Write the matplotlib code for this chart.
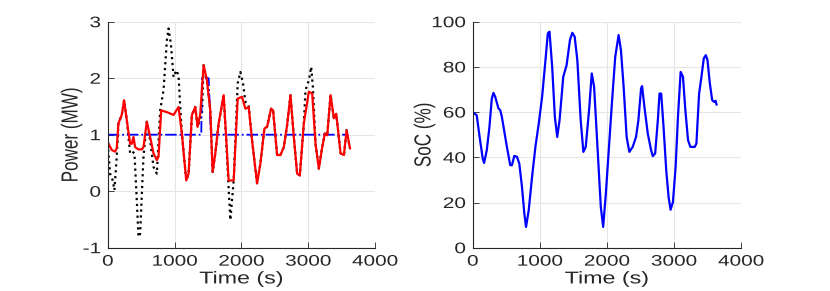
import matplotlib

matplotlib.use("Agg")
import matplotlib.pyplot as plt
from matplotlib import patheffects
from matplotlib.transforms import Affine2D

plt.rcParams["font.family"] = ["Liberation Sans", "DejaVu Sans"]
plt.rcParams["axes.unicode_minus"] = False

# --- left panel: power (MW) ---
red_t = [0, 60, 110, 135, 160, 210, 245, 285, 335, 360, 385, 410, 460, 510, 535,
         585, 635, 685, 735, 760, 800, 885, 985, 1060, 1110, 1175, 1210, 1260,
         1310, 1345, 1385, 1435, 1485, 1535, 1570, 1610, 1660, 1735, 1775, 1810,
         1885, 1945, 2010, 2060, 2110, 2160, 2235, 2285, 2345, 2385, 2445, 2475,
         2535, 2585, 2635, 2685, 2735, 2785, 2835, 2875, 2935, 3010, 3060, 3110,
         3160, 3210, 3250, 3285, 3335, 3385, 3420, 3485, 3535, 3575, 3625]
red_p = [0.87, 0.73, 0.70, 0.76, 1.20, 1.35, 1.61, 1.26, 0.84, 0.84, 0.96, 0.78,
         0.74, 0.74, 0.78, 1.23, 0.96, 0.67, 0.55, 0.61, 1.43, 1.40, 1.35, 1.49,
         1.02, 0.19, 0.31, 1.35, 1.49, 1.14, 1.37, 2.23, 1.96, 1.43, 0.34, 0.67,
         1.20, 1.70, 0.90, 0.19, 0.19, 1.64, 1.67, 1.46, 1.49, 0.90, 0.14, 0.49,
         1.11, 1.14, 1.46, 1.43, 0.64, 0.64, 0.78, 1.17, 1.70, 0.96, 0.31, 0.28,
         1.20, 1.76, 1.73, 0.84, 0.40, 0.78, 1.02, 0.99, 1.70, 1.29, 1.37, 0.67,
         0.64, 1.08, 0.76]

black_t = [0, 35, 75, 100, 135, 160, 210, 245, 285, 335, 370, 400, 435, 460, 485,
           535, 585, 635, 685, 735, 785, 835, 885, 910, 945, 985, 1025, 1060,
           1085, 1110, 1175, 1210, 1260, 1310, 1345, 1410, 1435, 1485, 1535, 1570,
           1610, 1660, 1735, 1785, 1835, 1860, 1885, 1945, 1985, 2025, 2060, 2110,
           2160, 2235, 2285, 2345, 2385, 2445, 2475, 2535, 2585, 2635, 2685, 2735,
           2785, 2835, 2875, 2935, 2960, 3010, 3045, 3070, 3110, 3160, 3210, 3250,
           3285, 3335, 3385, 3420, 3485, 3535, 3575, 3625]
black_p = [0.84, 0.31, 0.19, 0.02, 0.61, 1.20, 1.35, 1.61, 1.26, 0.67, 0.70, 0.67,
           -0.16, -0.81, -0.75, 0.61, 1.23, 0.90, 0.43, 0.31, 1.43, 1.79, 2.67,
           2.88, 2.61, 2.02, 2.14, 2.05, 1.49, 1.02, 0.19, 0.31, 1.35, 1.49, 1.14,
           1.37, 2.23, 1.96, 1.43, 0.34, 0.67, 1.20, 1.70, 0.61, -0.51, -0.16, 0.19,
           1.91, 2.11, 1.91, 1.58, 1.52, 0.90, 0.14, 0.49, 1.11, 1.14, 1.46, 1.43,
           0.64, 0.64, 0.78, 1.17, 1.70, 0.96, 0.31, 0.28, 1.20, 1.79, 1.96, 2.20,
           1.85, 0.84, 0.40, 0.78, 1.02, 0.99, 1.70, 1.29, 1.37, 0.67, 0.64, 1.08,
           0.76]

blue_t = [0, 1400, 1410, 1510, 1545, 3600]
blue_p = [1, 1, 2, 2, 1, 1]

# --- right panel: state of charge (%) ---
soc_t = [0, 60, 110, 150, 170, 210, 250, 285, 310, 335, 385, 410, 435, 510, 560,
         585, 620, 660, 695, 735, 770, 795, 835, 885, 935, 985, 1035, 1085, 1120,
         1145, 1185, 1225, 1260, 1295, 1350, 1400, 1450, 1485, 1520, 1560, 1610,
         1650, 1685, 1735, 1775, 1810, 1860, 1910, 1945, 1985, 2035, 2075, 2125,
         2175, 2210, 2250, 2295, 2335, 2385, 2435, 2470, 2510, 2525, 2560, 2610,
         2660, 2685, 2720, 2760, 2785, 2810, 2845, 2885, 2920, 2950, 2985, 3025,
         3060, 3100, 3135, 3170, 3210, 3245, 3285, 3310, 3335, 3375, 3410, 3445,
         3475, 3500, 3535, 3570, 3600, 3620, 3635]
soc = [60, 58.6, 47.6, 39.4, 37.5, 43.1, 53.5, 66, 68.5, 66.8, 61.6, 60.9, 57.9,
       44.6, 36.5, 36.5, 40.6, 40.2, 37.2, 26.9, 15.1, 9.2, 16.5, 31.3, 44.6, 55,
       66.8, 83, 94.8, 95.6, 80, 57.9, 49, 56.4, 75.6, 80.8, 91.9, 95.1, 93.4, 83,
       56.4, 42.4, 44.6, 60.9, 77.1, 71.2, 44.6, 18, 9.2, 23.9, 46.1, 63.8, 84.5,
       94.1, 87.4, 71.2, 49, 42.4, 44.6, 49, 56.4, 70.5, 71.5, 62.3, 50.5, 43.1,
       40.5, 41.7, 56.4, 68.2, 68.2, 53.5, 34.3, 22.5, 16.8, 20.2, 35.7, 57.9,
       77.8, 75.6, 60.9, 47.6, 44.6, 44.6, 44.6, 46.1, 68.2, 75.6, 83.8, 85.2, 83,
       72.7, 65.3, 64.5, 65, 63.4]

TEXT = "#262626"
STRETCH = 1.36  # the source figure's text is stretched sideways


class Widen(patheffects.AbstractPathEffect):
    """Stretch drawn text horizontally about its left/centre/right edge."""

    def __init__(self, sx, anchor="center"):
        super().__init__()
        self.sx = sx
        self.anchor = anchor

    def draw_path(self, renderer, gc, tpath, affine, rgbFace=None):
        xs = affine.transform(tpath.vertices)[:, 0]
        ref = {"left": xs.min(), "right": xs.max()}.get(self.anchor, (xs.min() + xs.max()) / 2)
        extra = Affine2D().translate(-ref, 0).scale(self.sx, 1).translate(ref, 0)
        renderer.draw_path(gc, tpath, affine + extra, rgbFace)


def style(ax, ylabel, yticks):
    ax.grid(True, color="#e6e6e6", lw=0.8)
    ax.set_axisbelow(True)
    for s in ("top", "right"):
        ax.spines[s].set_visible(False)
    for s in ("left", "bottom"):
        ax.spines[s].set_color(TEXT)
        ax.spines[s].set_linewidth(0.8)
    ax.tick_params(direction="in", length=4, width=0.6, colors=TEXT,
                   labelsize=11, pad=5)
    ax.set_xlim(0, 4000)
    ax.set_xticks([0, 1000, 2000, 3000, 4000])
    ax.set_ylim(yticks[0], yticks[-1])
    ax.set_yticks(yticks)
    ax.set_xlabel("Time (s)", fontsize=12.3, color=TEXT, labelpad=2)
    ax.set_ylabel(ylabel, fontsize=12.3, color=TEXT, labelpad=6)
    for t in ax.get_xticklabels():
        t.set_path_effects([Widen(STRETCH, "center")])
    for t in ax.get_yticklabels():
        t.set_path_effects([Widen(STRETCH, "right")])
    ax.xaxis.label.set_path_effects([Widen(STRETCH, "center")])
    ax.yaxis.label.set_path_effects([Widen(STRETCH, "center")])


fig = plt.figure(figsize=(8.3, 2.91), dpi=100)
ax1 = fig.add_axes([0.1298, 0.1488, 0.3220, 0.7766])
ax2 = fig.add_axes([0.5695, 0.1488, 0.3233, 0.7766])

ax1.plot(black_t, black_p, color="black", ls=":", lw=1.6)
ax1.plot(blue_t, blue_p, color="#0000ff", ls="-.", lw=1.3)
ax1.plot(red_t, red_p, color="#ff0000", lw=1.6)
style(ax1, "Power (MW)", [-1, 0, 1, 2, 3])

ax2.plot(soc_t, soc, color="#0000ff", lw=1.6)
style(ax2, "SoC (%)", [0, 20, 40, 60, 80, 100])

fig.savefig("out.png", dpi=100)
